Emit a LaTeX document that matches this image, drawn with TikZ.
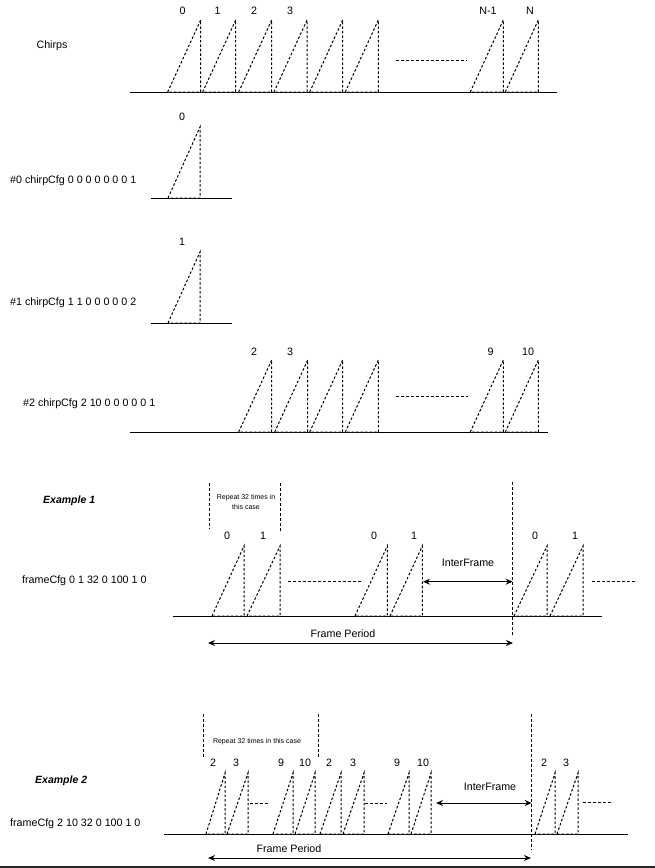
\documentclass[tikz,border=0pt]{standalone}
\usepackage{fontspec}
\setmainfont{Liberation Sans}
\usetikzlibrary{arrows.meta}
\newcommand{\chirpshape}[4]{\draw[chirpst] (#1,#4) -- (#2,#3) -- (#2,#4) -- cycle;}
\begin{document}
\begin{tikzpicture}[x=1pt,y=-1pt,
  base/.style={line width=1pt},
  chirpst/.style={line width=1pt, dash pattern=on 2.5pt off 2pt, fill=white},
  vdash/.style={line width=1pt, dash pattern=on 3pt off 2pt},
  lbl/.style={inner sep=0pt, font=\fontsize{10.7}{12.8}\selectfont},
  cfg/.style={lbl, anchor=west},
  exlbl/.style={inner sep=0pt, anchor=west, font=\fontsize{10.5}{12.6}\selectfont\bfseries\itshape},
  smalltxt/.style={inner sep=0pt, font=\fontsize{7}{8.4}\selectfont, align=center},
  dbl/.style={line width=1pt, {Stealth[length=7pt,width=6pt]}-{Stealth[length=7pt,width=6pt]}}]
\useasboundingbox (0,0) rectangle (655,868);

% ---------------- Chirps ----------------
\node[lbl] (chirps) at (52,46) {Chirps};
\coordinate (b0l) at (130,92); \coordinate (b0r) at (557,92);
\draw[base] (b0l) -- (b0r);
\foreach \v in {200.7,235.7,271.7,307,342.7,378.3,503.3,538.3} {\chirpshape{\v-33}{\v}{20}{92}}
\node[lbl] (t0) at (182.7,11) {0};
\node[lbl] (t1) at (217.7,11) {1};
\node[lbl] (t2) at (254,11) {2};
\node[lbl] (t3) at (290,11) {3};
\node[lbl] (tn1) at (488,11) {N-1};
\node[lbl] (tn) at (530,11) {N};
\coordinate (d0a) at (396,60); \coordinate (d0b) at (467,60);
\draw[vdash] (d0a) -- (d0b);

% ---------------- #0 ----------------
\node[cfg] (cfg0) at (10,181) {\#0 chirpCfg 0 0 0 0 0 0 0 1};
\coordinate (b1l) at (151,198); \coordinate (b1r) at (232,198);
\draw[base] (b1l) -- (b1r);
\chirpshape{168}{200}{127}{198}
\node[lbl] (z0) at (182,117) {0};

% ---------------- #1 ----------------
\node[cfg] (cfg1) at (10,303) {\#1 chirpCfg 1 1 0 0 0 0 0 2};
\coordinate (b2l) at (151,323); \coordinate (b2r) at (232,323);
\draw[base] (b2l) -- (b2r);
\chirpshape{168}{200}{252}{323}
\node[lbl] (z1) at (182,242) {1};

% ---------------- #2 ----------------
\node[cfg] (cfg2) at (23,404) {\#2 chirpCfg 2 10 0 0 0 0 0 1};
\coordinate (b3l) at (130,432); \coordinate (b3r) at (548,432);
\draw[base] (b3l) -- (b3r);
\foreach \v in {271.7,307.7,342.7,378.3,503.3,538.3} {\chirpshape{\v-33}{\v}{360}{432}}
\node[lbl] (s2) at (254,352) {2};
\node[lbl] (s3) at (290,352) {3};
\node[lbl] (s9) at (490.7,352) {9};
\node[lbl] (s10) at (528,352) {10};
\coordinate (d3a) at (396,396); \coordinate (d3b) at (468,396);
\draw[vdash] (d3a) -- (d3b);

% ---------------- Example 1 ----------------
\node[exlbl] (ex1) at (43,501) {Example 1};
\node[cfg] (fc1) at (22,581) {frameCfg 0 1 32 0 100 1 0};
\coordinate (r1a) at (209,483); \coordinate (r1b) at (209,529);
\coordinate (r1c) at (280,483); \coordinate (r1d) at (280,532);
\draw[vdash] (r1a) -- (r1b);
\draw[vdash] (r1c) -- (r1d);
\node[smalltxt] (rep1) at (246,502) {Repeat 32 times in\\[2pt]this case};
\coordinate (b4l) at (173,616); \coordinate (b4r) at (602,616);
\draw[base] (b4l) -- (b4r);
\chirpshape{212}{244}{546}{616}
\chirpshape{247}{280}{546}{616}
\chirpshape{355}{387.3}{546}{616}
\chirpshape{390}{422.3}{546}{616}
\chirpshape{514}{547}{546}{616}
\chirpshape{550}{583}{546}{616}
\node[lbl] (e0a) at (227,536) {0};
\node[lbl] (e1a) at (263,536) {1};
\node[lbl] (e0b) at (374,536) {0};
\node[lbl] (e1b) at (414,536) {1};
\node[lbl] (e0c) at (535,536) {0};
\node[lbl] (e1c) at (575,536) {1};
\coordinate (d4a) at (288,581); \coordinate (d4b) at (362,581);
\coordinate (d4c) at (592,581); \coordinate (d4d) at (637,581);
\draw[vdash] (d4a) -- (d4b);
\draw[vdash] (d4c) -- (d4d);
\coordinate (v1a) at (512.7,482); \coordinate (v1b) at (512.7,635);
\draw[vdash] (v1a) -- (v1b);
\coordinate (if1a) at (423,581.7); \coordinate (if1b) at (512.7,581.7);
\draw[dbl] (if1a) -- (if1b);
\node[lbl] (ift1) at (468,563) {InterFrame};
\coordinate (fp1a) at (208,643); \coordinate (fp1b) at (513,643);
\draw[dbl] (fp1a) -- (fp1b);
\node[lbl] (fpt1) at (343,634) {Frame Period};

% ---------------- Example 2 ----------------
\node[exlbl] (ex2) at (35,781) {Example 2};
\node[cfg] (fc2) at (10,824) {frameCfg 2 10 32 0 100 1 0};
\coordinate (r2a) at (203,714); \coordinate (r2b) at (203,757);
\coordinate (r2c) at (318,714); \coordinate (r2d) at (318,757);
\draw[vdash] (r2a) -- (r2b);
\draw[vdash] (r2c) -- (r2d);
\node[smalltxt] (rep2) at (257,742) {Repeat 32 times in this case};
\coordinate (b5l) at (164,834); \coordinate (b5r) at (628,834);
\draw[base] (b5l) -- (b5r);
\chirpshape{206}{225}{773}{834}
\chirpshape{227}{248}{773}{834}
\chirpshape{273}{293}{773}{834}
\chirpshape{295}{315}{773}{834}
\chirpshape{320}{341}{773}{834}
\chirpshape{343}{364}{773}{834}
\chirpshape{388}{409}{773}{834}
\chirpshape{411}{431}{773}{834}
\chirpshape{535}{555}{773}{834}
\chirpshape{557}{578}{773}{834}
\node[lbl] (f2a) at (213,763) {2};
\node[lbl] (f3a) at (236,763) {3};
\node[lbl] (f9a) at (281,763) {9};
\node[lbl] (f10a) at (305,763) {10};
\node[lbl] (f2b) at (329,763) {2};
\node[lbl] (f3b) at (353,763) {3};
\node[lbl] (f9b) at (397,763) {9};
\node[lbl] (f10b) at (423,763) {10};
\node[lbl] (f2c) at (544,763) {2};
\node[lbl] (f3c) at (566,763) {3};
\coordinate (d5a) at (250,803); \coordinate (d5b) at (270,803);
\coordinate (d5c) at (365,803); \coordinate (d5d) at (387,803);
\coordinate (d5e) at (583,802); \coordinate (d5f) at (613,802);
\draw[vdash] (d5a) -- (d5b);
\draw[vdash] (d5c) -- (d5d);
\draw[vdash] (d5e) -- (d5f);
\coordinate (v2a) at (531.7,714); \coordinate (v2b) at (531.7,850);
\draw[vdash] (v2a) -- (v2b);
\coordinate (if2a) at (436,803); \coordinate (if2b) at (531.7,803);
\draw[dbl] (if2a) -- (if2b);
\node[lbl] (ift2) at (490,787) {InterFrame};
\coordinate (fp2a) at (208,858); \coordinate (fp2b) at (531,858);
\draw[dbl] (fp2a) -- (fp2b);
\node[lbl] (fpt2) at (289,849) {Frame Period};

% bottom strip
\fill[black!85] (0,865.5) rectangle (655,868);
\end{tikzpicture}
\end{document}
